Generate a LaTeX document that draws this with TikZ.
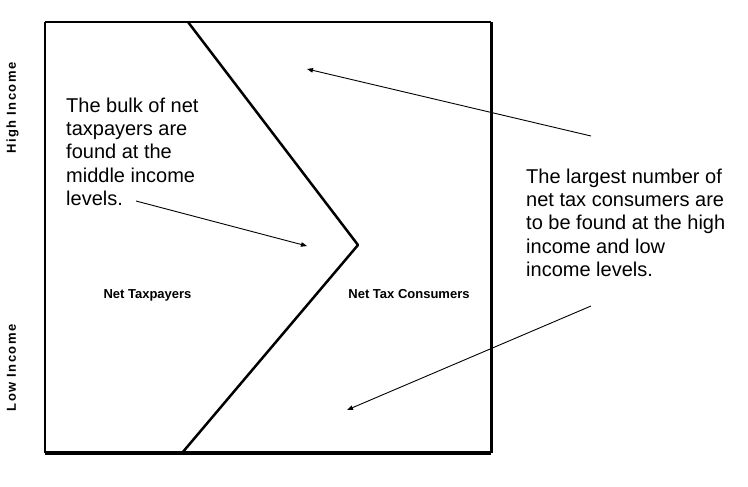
\documentclass[tikz,border=0pt]{standalone}
\usepackage{fontspec}
\setmainfont{Liberation Sans}
\usetikzlibrary{arrows.meta}
\begin{document}
\begin{tikzpicture}[x=1pt,y=-1pt,
  note/.style={align=left,inner sep=0pt,anchor=north west,font=\fontsize{20}{23.4}\selectfont},
  region/.style={inner sep=0pt,anchor=base,font=\fontsize{13}{15}\selectfont\bfseries},
  axislabel/.style={inner sep=0pt,anchor=base,rotate=90,font=\fontsize{13}{15}\selectfont\bfseries\addfontfeature{LetterSpace=11}},
  pointer/.style={line width=0.9pt,-{Triangle[length=6pt,width=4.5pt]}}]
\useasboundingbox (0,0) rectangle (748,487);
\coordinate (TL) at (45,22);
\coordinate (TR) at (491,22);
\coordinate (BR) at (491,453);
\coordinate (BL) at (45,453);
\draw[line width=1.5pt] (TL) -- (TR);
\draw[line width=2.5pt] (TL) -- (BL);
\draw[line width=3pt] (TR) -- (BR);
\draw[line width=4pt] (BL) -- (BR);
\coordinate (Z1) at (188,22);
\coordinate (Z2) at (358,245);
\coordinate (Z3) at (182,453);
\draw[line width=2.5pt,line join=round] (Z1) -- (Z2) -- (Z3);
\node[note] (bulk) at (66,97.5) {The bulk of net\\taxpayers are\\found at the\\middle income\\levels.};
\node[note] (largest) at (526,168.5) {The largest number of\\net tax consumers are\\to be found at the high\\income and low\\income levels.};
\node[region] (payers) at (147.5,298) {Net Taxpayers};
\node[region] (consumers) at (409,298) {Net Tax Consumers};
\node[axislabel] (high) at (16,108) {High Income};
\node[axislabel] (low) at (16,368) {Low Income};
\coordinate (a1s) at (591,136);
\coordinate (a1e) at (307,69);
\coordinate (a2s) at (136,201);
\coordinate (a2e) at (307,246);
\coordinate (a3s) at (591,306);
\coordinate (a3e) at (347,410);
\draw[pointer] (a1s) -- (a1e);
\draw[pointer] (a2s) -- (a2e);
\draw[pointer] (a3s) -- (a3e);
\end{tikzpicture}
\end{document}
